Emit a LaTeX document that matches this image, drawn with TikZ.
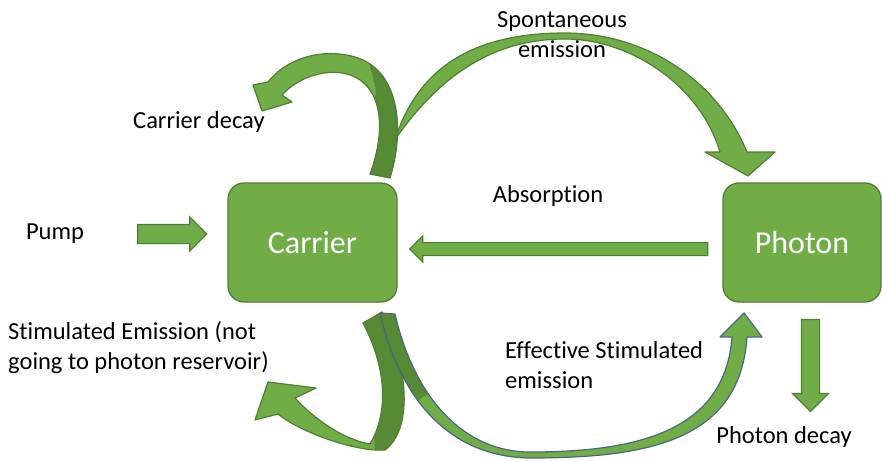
\documentclass[tikz,border=0pt]{standalone}
\usepackage{xcolor}
\usepackage{fontspec}
\setmainfont{Carlito}[Ligatures={NoCommon}]
\usepackage{tikz}
\usetikzlibrary{shapes.arrows}

\definecolor{leaf}{RGB}{112,173,71}
\definecolor{leafedge}{RGB}{80,126,50}
\definecolor{leafshade}{RGB}{86,138,52}
\definecolor{slateedge}{RGB}{70,104,128}

\tikzset{
    reservoir/.style={draw=leafedge, fill=leaf, line width=1.3pt, rounded corners=16pt,
        minimum width=#1, minimum height=119pt, inner sep=0pt, text=white,
        font=\fontsize{32}{38}\selectfont},
    blockarrow/.style={single arrow, draw=leafedge, fill=leaf, line width=1.2pt,
        inner xsep=0pt, outer sep=0pt, single arrow head indent=0pt},
    rim/.style={draw=#1, line width=1.2pt, line join=round},
    txt/.style={font=\fontsize{24.5}{30}\selectfont, inner sep=0pt},
}

\newcommand{\spontband}{(390,158) .. controls (410,70) and (470,33) .. (565,33)
    .. controls (640,33) and (715,75) .. (747,152) -- (775,152) -- (748,176) -- (705,152) -- (720,152)
    .. controls (700,85) and (630,39) .. (565,39) .. controls (480,39) and (425,90) .. (380,162) -- cycle}
\newcommand{\decayband}{(390,178) .. controls (405,130) and (400,70) .. (355,57)
    .. controls (320,47) and (285,60) .. (268,82) -- (253,85) -- (262,111) -- (292,102) -- (282,95)
    .. controls (300,75) and (330,68) .. (350,75) .. controls (380,85) and (388,125) .. (370,174) -- cycle}
\newcommand{\lostband}{(382,312) .. controls (410,370) and (412,430) .. (385,450)
    .. controls (355,452) and (300,432) .. (278,414) -- (255,420) -- (268,382) -- (316,388) -- (295,398)
    .. controls (315,420) and (345,440) .. (370,444) .. controls (390,410) and (385,365) .. (363,323) -- cycle}
\newcommand{\effband}{(380,313) .. controls (400,400) and (450,457) .. (530,458)
    .. controls (650,458) and (740,440) .. (747,337) -- (762,337) -- (744,313) -- (720,337) -- (732,337)
    .. controls (725,430) and (640,452) .. (530,452) .. controls (465,452) and (415,400) .. (395,314) -- cycle}

\begin{document}
\begin{tikzpicture}[x=1pt, y=-1pt]
            \useasboundingbox (0,0) rectangle (882,460);

            \node[reservoir=169pt] at (312.5,242.5) (carrier) {Carrier};
            \node[reservoir=158pt] at (802,242.5) (photon) {Photon};

            \node[blockarrow, minimum height=69pt, inner ysep=9pt, single arrow head extend=7.5pt] at (167.5,234) (pumparrow) {};
            \node[blockarrow, rotate=180, minimum height=298pt, inner ysep=6pt, single arrow head extend=6.5pt] at (562,249) (absorbarrow) {};
            \node[blockarrow, rotate=-90, minimum height=92pt, inner ysep=8.5pt, single arrow head extend=9pt] at (810.5,361) (pdecayarrow) {};

            \fill[leaf] \spontband;
            \draw[rim=leafedge] \spontband;

            \fill[leaf] \decayband;
            \begin{scope}
                \clip \decayband;
                \fill[leafshade] (366,50) -- (430,50) -- (430,190) -- (365,190) -- (376,90) -- cycle;
            \end{scope}
            \draw[rim=leafedge] \decayband;

            \fill[leaf] \lostband;
            \begin{scope}
                \clip \lostband;
                \fill[leafshade] (355,305) -- (430,305) -- (430,465) -- (376,465) -- (372,400) -- (355,330) -- cycle;
            \end{scope}
            \draw[rim=leafedge] \lostband;

            \fill[leaf] \effband;
            \begin{scope}
                \clip \effband;
                \fill[leafshade] (370,305) -- (430,305) -- (430,392) -- (405,410) -- (370,410) -- cycle;
            \end{scope}
            \draw[rim=slateedge] \effband;

            \node[txt] at (55,234) (pump) {Pump};
            \node[txt, anchor=west] at (133,122) (carrierdecay) {Carrier decay};
            \node[txt, align=center] at (562,35) (spontaneous) {Spontaneous\\emission};
            \node[txt] at (548,196) (absorption) {Absorption};
            \node[txt, align=left, anchor=west] at (8,348) (stimulated) {Stimulated Emission (not\\going to photon reservoir)};
            \node[txt, align=left, anchor=west] at (505,365) (effective) {Effective Stimulated\\emission};
            \node[txt] at (784,437) (photondecay) {Photon decay};
\end{tikzpicture}
\end{document}
